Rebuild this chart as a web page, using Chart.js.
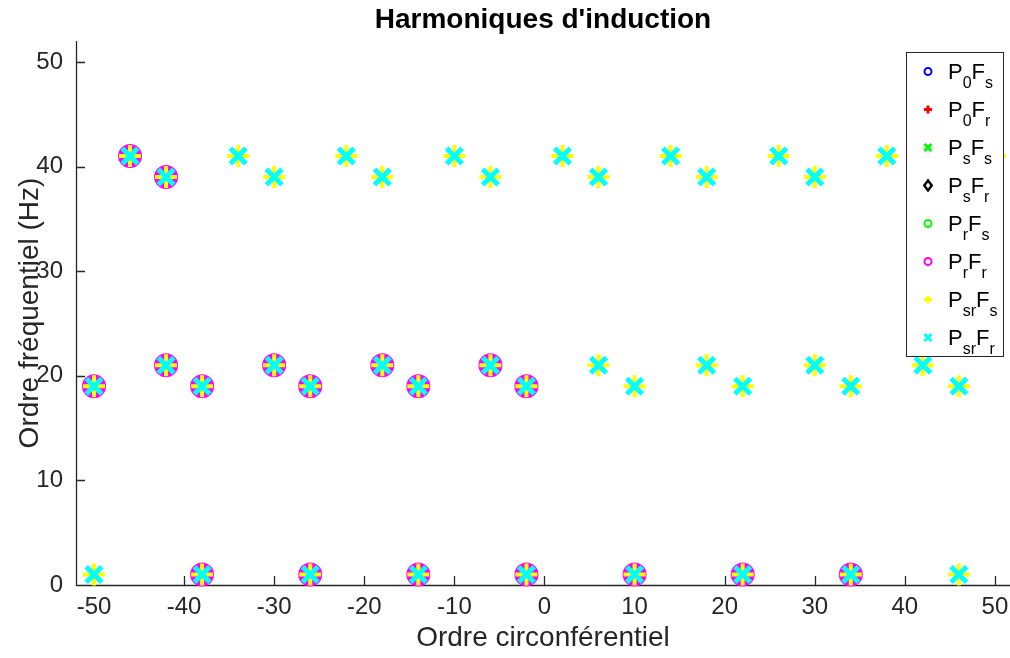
<!DOCTYPE html>
<html>
<head>
<meta charset="utf-8">
<title>Harmoniques d'induction</title>
<script src="https://cdn.jsdelivr.net/npm/chart.js@4.4.1/dist/chart.umd.min.js"></script>
<style>
  html, body { margin: 0; padding: 0; background: #fff; }
  canvas { display: block; }
</style>
</head>
<body>
<canvas id="harmo" width="1010" height="658"></canvas>
<script>
// axis ticks
var xTicks = [-50, -40, -30, -20, -10, 0, 10, 20, 30, 40, 50];
var yTicks = [0, 10, 20, 30, 40, 50];

// rotor harmonics (P_r F_s / P_r F_r), orders by frequency line
var pr41 = [-46];
var pr39 = [-42];
var pr21 = [-42, -30, -18, -6];
var pr19 = [-50, -38, -26, -14, -2];
var pr1 = [-38, -26, -14, -2, 10, 22, 34];

// stator-rotor harmonics (P_sr F_s / P_sr F_r)
var psr41 = [-46, -34, -22, -10, 2, 14, 26, 38, 50];
var psr39 = [-42, -30, -18, -6, 6, 18, 30, 42];
var psr21 = [-42, -30, -18, -6, 6, 18, 30, 42];
var psr19 = [-50, -38, -26, -14, -2, 10, 22, 34, 46];
var psr1 = [-50, -38, -26, -14, -2, 10, 22, 34, 46];

// legend names as [P, sub, F, sub]
var seriesNames = [
  ['P', '0', 'F', 's'], ['P', '0', 'F', 'r'], ['P', 's', 'F', 's'], ['P', 's', 'F', 'r'],
  ['P', 'r', 'F', 's'], ['P', 'r', 'F', 'r'], ['P', 'sr', 'F', 's'], ['P', 'sr', 'F', 'r']
];
var seriesColors = ['#0000ff', '#ff0000', '#00ff00', '#000000', '#00ff00', '#ff00ff', '#ffff00', '#00ffff'];
var seriesMarkers = ['circle', 'cross', 'crossRot', 'rectRot', 'circle', 'circle', 'cross', 'crossRot'];

var axisColor = '#262626';
var fontFamily = "'Liberation Sans', Arial, Helvetica, sans-serif";

// marker sizes in the plot and in the legend
var plotRadius = [6, 6, 6, 6, 6, 9, 11, 11];
var plotWidth = [3, 3, 3, 3, 5, 6, 4, 5];
var legRadius = [3.5, 4, 5, 5, 3.5, 3.5, 4, 5];
var legWidth = [2, 3, 3, 2.5, 2, 2, 3, 3];

function toPoints(rows) {
  var pts = [];
  rows.forEach(function (r) {
    r.orders.forEach(function (o) { pts.push({ x: o, y: r.freq }); });
  });
  return pts;
}

var rotorPts = toPoints([
  { freq: 41, orders: pr41 }, { freq: 39, orders: pr39 }, { freq: 21, orders: pr21 },
  { freq: 19, orders: pr19 }, { freq: 1, orders: pr1 }
]);
var srPts = toPoints([
  { freq: 41, orders: psr41 }, { freq: 39, orders: psr39 }, { freq: 21, orders: psr21 },
  { freq: 19, orders: psr19 }, { freq: 1, orders: psr1 }
]);

// P0 and Ps families have nothing inside the visible window
var seriesData = [[], [], [], [], rotorPts, rotorPts, srPts, srPts];

var datasets = seriesNames.map(function (name, i) {
  return {
    label: name.join(''),
    data: seriesData[i],
    pointStyle: seriesMarkers[i],
    pointRadius: plotRadius[i],
    pointHoverRadius: plotRadius[i],
    borderColor: seriesColors[i],
    backgroundColor: 'rgba(0,0,0,0)',
    pointBorderWidth: plotWidth[i],
    borderWidth: plotWidth[i],
    order: seriesNames.length - i, // last series on top, like matlab
    clip: false
  };
});

// small legend glyphs
function drawMark(ctx, style, r, x, y) {
  if (style === 'circle') {
    ctx.moveTo(x + r, y);
    ctx.arc(x, y, r, 0, Math.PI * 2);
  } else if (style === 'cross') {
    ctx.moveTo(x - r, y); ctx.lineTo(x + r, y);
    ctx.moveTo(x, y - r); ctx.lineTo(x, y + r);
  } else if (style === 'crossRot') {
    var d = r * 0.707;
    ctx.moveTo(x - d, y - d); ctx.lineTo(x + d, y + d);
    ctx.moveTo(x - d, y + d); ctx.lineTo(x + d, y - d);
  } else if (style === 'rectRot') {
    ctx.moveTo(x, y - r); ctx.lineTo(x + r * 0.75, y);
    ctx.lineTo(x, y + r); ctx.lineTo(x - r * 0.75, y);
    ctx.closePath();
  }
}

var matlabLook = {
  id: 'matlabLook',
  beforeDatasetsDraw: function (chart) {
    var ctx = chart.ctx, a = chart.chartArea;
    var xs = chart.scales.x, ys = chart.scales.y;
    ctx.save();
    ctx.strokeStyle = axisColor;
    ctx.lineWidth = 1.3;
    ctx.beginPath();
    // inward ticks
    xTicks.forEach(function (v) {
      var px = Math.round(xs.getPixelForValue(v)) + 0.5;
      ctx.moveTo(px, a.bottom);
      ctx.lineTo(px, a.bottom - 9);
    });
    yTicks.forEach(function (v) {
      var py = Math.round(ys.getPixelForValue(v)) + 0.5;
      ctx.moveTo(a.left, py);
      ctx.lineTo(a.left + 9, py);
    });
    ctx.moveTo(a.left + 0.5, a.top);
    ctx.lineTo(a.left + 0.5, a.bottom + 0.5);
    ctx.lineTo(a.right, a.bottom + 0.5);
    ctx.stroke();
    ctx.restore();
  },
  afterDraw: function (chart) {
    var ctx = chart.ctx, a = chart.chartArea;
    ctx.save();
    // title centred over the axes
    ctx.fillStyle = '#000';
    ctx.font = 'bold 28px ' + fontFamily;
    ctx.textAlign = 'center';
    ctx.textBaseline = 'middle';
    ctx.fillText("Harmoniques d'induction", (a.left + a.right) / 2, 20);

    // legend box
    var bx = 906.5, by = 52.5, bw = 97, bh = 304, rowH = 38;
    ctx.fillStyle = '#fff';
    ctx.fillRect(bx, by, bw, bh);
    ctx.strokeStyle = axisColor;
    ctx.lineWidth = 1;
    ctx.strokeRect(bx, by, bw, bh);
    ctx.textAlign = 'left';
    ctx.textBaseline = 'alphabetic';
    seriesNames.forEach(function (name, i) {
      var cy = by + rowH / 2 + i * rowH;
      ctx.strokeStyle = seriesColors[i];
      ctx.lineWidth = legWidth[i];
      ctx.beginPath();
      drawMark(ctx, seriesMarkers[i], legRadius[i], 928, cy);
      ctx.stroke();
      ctx.fillStyle = '#000';
      var tx = 948;
      for (var k = 0; k < name.length; k++) {
        var sub = k % 2 === 1;
        ctx.font = (sub ? '16px ' : '22px ') + fontFamily;
        ctx.fillText(name[k], tx, cy + (sub ? 16 : 7));
        tx += ctx.measureText(name[k]).width;
      }
    });
    ctx.restore();
  }
};

var ctx = document.getElementById('harmo').getContext('2d');
new Chart(ctx, {
  type: 'scatter',
  data: { datasets: datasets },
  options: {
    responsive: false,
    animation: false,
    events: [],
    layout: { autoPadding: false, padding: { top: 41, right: 0, left: 0, bottom: 0 } },
    plugins: {
      legend: { display: false },
      title: { display: false },
      tooltip: { enabled: false }
    },
    scales: {
      x: {
        type: 'linear',
        min: -52,
        max: 51.67,
        grid: { display: false, drawTicks: false },
        border: { display: false },
        afterBuildTicks: function (scale) {
          scale.ticks = xTicks.map(function (v) { return { value: v }; });
        },
        afterFit: function (scale) {
          scale.height = 73;
          scale.paddingLeft = 0;
          scale.paddingRight = 0;
        },
        ticks: {
          color: axisColor,
          padding: 8,
          maxRotation: 0,
          autoSkip: false,
          font: { family: fontFamily, size: 24 }
        },
        title: {
          display: true,
          text: 'Ordre circonférentiel',
          color: axisColor,
          padding: { top: 0, bottom: 3 },
          font: { family: fontFamily, size: 28 }
        }
      },
      y: {
        type: 'linear',
        min: 0,
        max: 52,
        grid: { display: false, drawTicks: false },
        border: { display: false },
        afterBuildTicks: function (scale) {
          scale.ticks = yTicks.map(function (v) { return { value: v }; });
        },
        afterFit: function (scale) {
          scale.width = 76;
          scale.paddingTop = 0;
          scale.paddingBottom = 0;
        },
        ticks: {
          color: axisColor,
          padding: 13,
          autoSkip: false,
          font: { family: fontFamily, size: 24 }
        },
        title: {
          display: true,
          text: 'Ordre fréquentiel (Hz)',
          color: axisColor,
          padding: { top: 13, bottom: 0 },
          font: { family: fontFamily, size: 28 }
        }
      }
    }
  },
  plugins: [matlabLook]
});
</script>
</body>
</html>
